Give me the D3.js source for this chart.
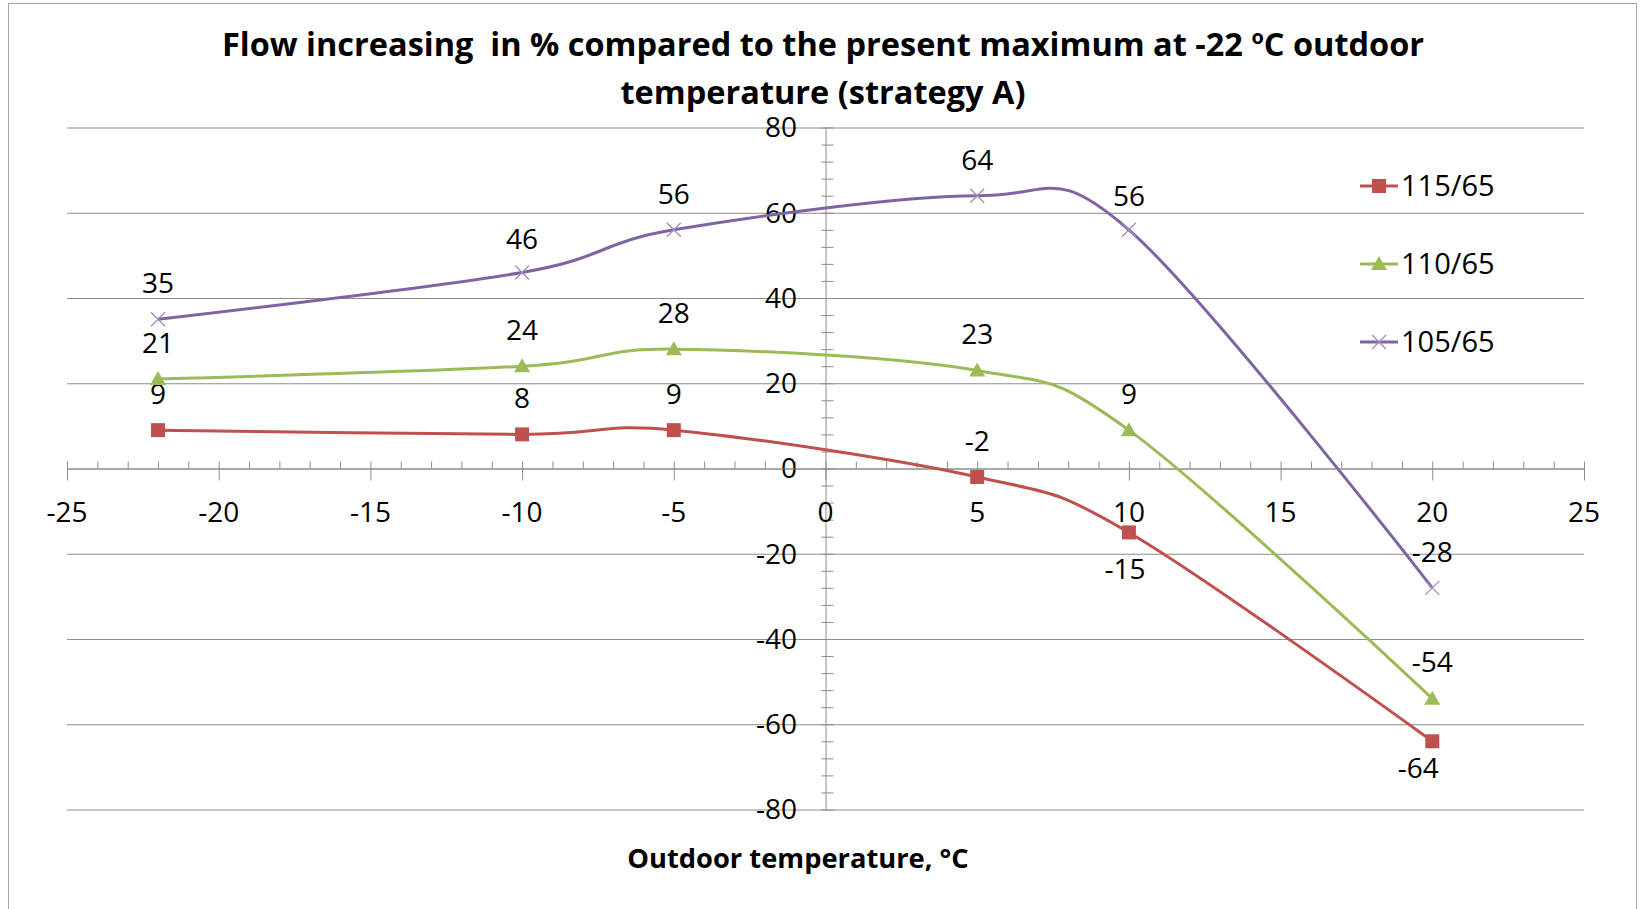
<!DOCTYPE html>
<head>
  <meta charset='utf-8'>
  <script src='https://d3js.org/d3.v7.min.js'></script>
  <style>
    body { margin: 0; background: #fff; }
    text { font-family: 'Open Sans', sans-serif; fill: #000; }
  </style>
</head>
<body>
<script>
// data
const temps = [-22, -10, -5, 5, 10, 20];
const s115 = [9, 8, 9, -2, -15, -64];
const s110 = [21, 24, 28, 23, 9, -54];
const s105 = [35, 46, 56, 64, 56, -28];
const seriesNames = ['115/65', '110/65', '105/65'];
const xTicks = [-25, -20, -15, -10, -5, 0, 5, 10, 15, 20, 25];
const yTicks = [-80, -60, -40, -20, 0, 20, 40, 60, 80];

// label placement: [dx, dy] from the point
const up = [0, -36];
const series = [
  {name: seriesNames[0], values: s115, color: '#C0504D', marker: 'square', lab: [up, up, up, up, [-4, 37], [-14, 27]]},
  {name: seriesNames[1], values: s110, color: '#9BBB59', marker: 'triangle', lab: [up, up, up, up, up, up]},
  {name: seriesNames[2], values: s105, color: '#8064A2', marker: 'cross', lab: [up, [0, -33], up, up, [0, -34], up]}
];

const width = 1640, height = 909;
const svg = d3.select('body').append('svg').attr('width', width).attr('height', height);

// outer chart frame
svg.append('rect').attr('x', 8.5).attr('y', 3.5).attr('width', 1628).attr('height', 920)
  .attr('fill', 'none').attr('stroke', '#a6a6a6').attr('stroke-width', 1);

const x = d3.scaleLinear().domain([-25, 25]).range([67, 1584]);
const y = d3.scaleLinear().domain([-80, 80]).range([809.5, 127.5]);

// title
const title = svg.append('text').attr('text-anchor', 'middle').attr('font-weight', 'bold').attr('font-size', 32.5);
const t1 = title.append('tspan').attr('x', 823).attr('y', 56);
t1.append('tspan').text('Flow increasing\u00a0 in % compared to the present maximum at -22 ');
t1.append('tspan').attr('font-size', 20).attr('dy', -12).text('o');
t1.append('tspan').attr('dy', 12).text('C outdoor');
title.append('tspan').attr('x', 823).attr('y', 104).text('temperature (strategy A)');

// gridlines
svg.append('g').selectAll('line').data(yTicks).join('line')
  .attr('x1', x(-25)).attr('x2', x(25))
  .attr('y1', d => y(d) + 0.5).attr('y2', d => y(d) + 0.5)
  .attr('stroke', '#8c8c8c').attr('stroke-width', 1);

// y axis at x = 0
const yMinor = d3.range(-80, 81, 4);
const gy = svg.append('g');
gy.append('line').attr('x1', x(0) + 0.5).attr('x2', x(0) + 0.5).attr('y1', y(80)).attr('y2', y(-80))
  .attr('stroke', '#8c8c8c');
gy.selectAll('line.minor').data(yMinor).join('line').attr('class', 'minor')
  .attr('x1', x(0) - 4).attr('x2', x(0) + 8)
  .attr('y1', d => y(d) + 0.5).attr('y2', d => y(d) + 0.5)
  .attr('stroke', '#8c8c8c');
gy.selectAll('text').data(yTicks).join('text')
  .attr('x', 797).attr('y', d => y(d)).attr('dy', '0.35em')
  .attr('text-anchor', 'end').attr('font-size', 28)
  .text(d => d);

// x axis at y = 0
const xMinor = d3.range(-25, 26, 1);
const gx = svg.append('g');
gx.append('line').attr('x1', x(-25)).attr('x2', x(25)).attr('y1', y(0) + 0.5).attr('y2', y(0) + 0.5)
  .attr('stroke', '#8c8c8c');
gx.selectAll('line.minor').data(xMinor).join('line').attr('class', 'minor')
  .attr('x1', d => x(d) + 0.5).attr('x2', d => x(d) + 0.5)
  .attr('y1', y(0) - 7).attr('y2', d => d % 5 === 0 ? y(0) + 12 : y(0))
  .attr('stroke', '#8c8c8c');
gx.selectAll('text').data(xTicks).join('text')
  .attr('x', d => x(d)).attr('y', 512).attr('dy', '0.35em')
  .attr('text-anchor', 'middle').attr('font-size', 28)
  .text(d => d);

// axis title
svg.append('text').attr('x', 798).attr('y', 858).attr('dy', '0.35em')
  .attr('text-anchor', 'middle').attr('font-weight', 'bold').attr('font-size', 27.3)
  .text('Outdoor temperature, \u00b0C');

const line = d3.line().curve(d3.curveCardinal.tension(0))
  .x((d, i) => x(temps[i])).y(d => y(d));

function drawMarker(g, type, color) {
  if (type === 'square') {
    g.append('rect').attr('x', -7).attr('y', -7).attr('width', 14).attr('height', 14).attr('fill', color);
  } else if (type === 'triangle') {
    g.append('path').attr('d', 'M0,-8L8,6L-8,6Z').attr('fill', color);
  } else {
    g.append('path').attr('d', 'M-7,-7L7,7M-7,7L7,-7').attr('stroke', '#a08cc0').attr('stroke-width', 1.3).attr('fill', 'none');
  }
}

series.forEach(s => {
  const g = svg.append('g');
  g.append('path').attr('d', line(s.values)).attr('fill', 'none')
    .attr('stroke', s.color).attr('stroke-width', 3);
  s.values.forEach((v, i) => {
    const m = g.append('g').attr('transform', `translate(${x(temps[i])},${y(v)})`);
    drawMarker(m, s.marker, s.color);
    g.append('text').attr('x', x(temps[i]) + s.lab[i][0]).attr('y', y(v) + s.lab[i][1])
      .attr('dy', '0.35em').attr('text-anchor', 'middle').attr('font-size', 28)
      .text(v);
  });
});

// legend
const legend = svg.append('g').selectAll('g').data(series).join('g')
  .attr('transform', (d, i) => `translate(1360,${186 + i * 78})`);
legend.append('line').attr('x1', 0).attr('x2', 38).attr('stroke', d => d.color).attr('stroke-width', 3);
legend.each(function(d) {
  const m = d3.select(this).append('g').attr('transform', 'translate(19,0)');
  drawMarker(m, d.marker, d.color);
});
legend.append('text').attr('x', 41).attr('dy', '0.35em').attr('font-size', 29).text(d => d.name);
</script>
</body>
